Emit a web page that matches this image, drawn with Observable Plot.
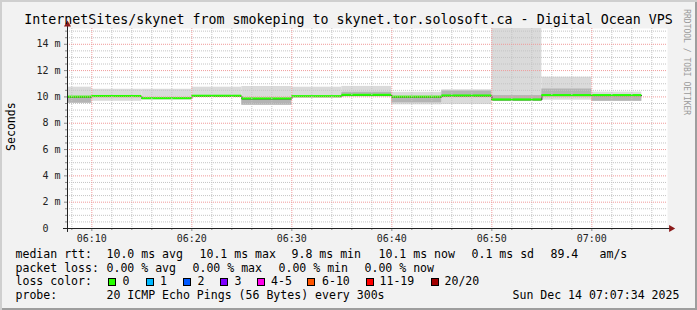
<!DOCTYPE html>
<html><head><meta charset="utf-8">
<script src="https://cdn.jsdelivr.net/npm/d3@7"></script>
<script src="https://cdn.jsdelivr.net/npm/@observablehq/plot@0.6"></script>
<style>
html,body{margin:0;padding:0;background:#f2f2f2;}
#wrap{position:relative;width:697px;height:310px;background:#f2f2f2;overflow:hidden;font-family:"DejaVu Sans Mono",monospace;color:#000;box-shadow:inset 2px 2px 0 #cfcfcf, inset -2px -2px 0 #9e9e9e;}
#chart{position:absolute;left:0;top:0;}
.t{position:absolute;white-space:pre;line-height:1;}
.sq{position:absolute;width:6px;height:6px;border:1px solid #000;}
</style></head><body><div id="wrap"><div id="chart"></div></div>
<script>
// ---- data ----
const timeLabels = ["06:05","06:10","06:15","06:20","06:25","06:30","06:35","06:40","06:45","06:50","06:55","07:00"];
const lastEnd = "07:05";
const medianRtt = [9.98,10.03,9.87,10.05,9.85,10.02,10.12,9.98,10.07,9.77,10.10,10.10];
const smokeMin  = [9.52,9.67,9.82,9.98,9.37,9.95,9.98,9.40,9.42,9.72,9.75,9.67];
const smokeMax  = [10.74,10.58,10.58,10.74,10.79,10.74,10.80,10.35,10.54,15.20,11.50,10.37];
const denseLo   = [9.52,10.03,9.87,10.05,9.37,10.02,10.12,9.55,10.07,9.77,10.10,9.67];
const denseHi   = [9.98,10.03,9.87,10.05,9.85,10.02,10.35,9.98,10.45,10.10,10.60,10.10];
const windowStartLabel = "06:07:34";
const windowEndLabel = "07:07:34";
const yMax = 15.2;
const yTickValues = [2,4,6,8,10,12,14];

const titleText = "InternetSites/skynet from smokeping to skynet.tor.solosoft.ca - Digital Ocean VPS";
const lossLabels = ["0","1","2","3","4-5","6-10","11-19","20/20"];
const lossColors = ["#26ff00","#00b8ff","#0059ff","#7e00ff","#ff00ea","#ff5500","#ff0000","#a10000"];
const lossSquareX = [108,145.5,182.5,219.5,256.5,307,365.5,430.5];
const lossLabelX = [122.5,160,197.5,234.5,271,322,379.5,444.5];
const legendLine1 = [[15.5,"median rtt:"],[106.5,"10.0 ms avg"],[199.5,"10.1 ms max"],[291.5,"9.8 ms min"],[378.5,"10.1 ms now"],[471.5,"0.1 ms sd"],[550.5,"89.4"],[599.5,"am/s"]];
const legendLine2 = [[15.5,"packet loss:"],[106.5,"0.00 % avg"],[192.5,"0.00 % max"],[278.5,"0.00 % min"],[364.5,"0.00 % now"]];
const legendLine4 = [[15.5,"probe:"],[106.5,"20 ICMP Echo Pings (56 Bytes) every 300s"],[512.5,"Sun Dec 14 07:07:34 2025"]];

// ---- build ----
const parseT = s => { const p = s.split(":").map(Number); return new Date(Date.UTC(2025, 11, 14, p[0], p[1], p[2] || 0)); };
const shift = (d, sec) => new Date(+d + sec * 1000);
const windowStart = parseT(windowStartLabel), windowEnd = parseT(windowEndLabel);
const rows = timeLabels.map((t, i) => ({
  start: parseT(t), end: parseT(i < timeLabels.length - 1 ? timeLabels[i + 1] : lastEnd),
  med: medianRtt[i], lo: smokeMin[i], hi: smokeMax[i], dlo: denseLo[i], dhi: denseHi[i]
}));
const medianPts = rows.map(r => ({t: r.start, v: r.med})).concat([{t: rows[rows.length - 1].end, v: rows[rows.length - 1].med}]);
const majorX = d3.utcMinute.every(10).range(windowStart, windowEnd);
const minorX = d3.utcMinute.every(2).range(windowStart, windowEnd).filter(d => d.getUTCMinutes() % 10 !== 0);
const minorY = d3.range(0.5, yMax, 0.5).filter(v => v % 2 !== 0);
const fmt = d3.utcFormat("%H:%M");

const chart = Plot.plot({
  width: 697, height: 310,
  marginLeft: 67, marginRight: 30, marginTop: 28, marginBottom: 82,
  x: {type: "utc", domain: [windowStart, windowEnd], axis: null},
  y: {domain: [0, yMax], axis: null},
  style: {background: "transparent", fontFamily: "'DejaVu Sans Mono', monospace", fontSize: "10px", color: "#222", overflow: "visible"},
  marks: [
    Plot.frame({fill: "#ffffff", stroke: "none"}),
    Plot.rect(rows, {x1: "start", x2: "end", y1: "lo", y2: "hi", fill: "#dadada", clip: true}),
    Plot.rect(rows, {x1: "start", x2: "end", y1: "dlo", y2: "dhi", fill: "#b4b4b4", clip: true}),
    Plot.line(medianPts, {x: "t", y: "v", curve: "step-after", stroke: "#202020", strokeWidth: 1, clip: true}),
    Plot.rect(rows, {x1: "start", x2: "end", y1: d => d.med - 0.08, y2: d => d.med + 0.08, fill: "#26ff00", clip: true}),
    Plot.gridY(minorY, {stroke: "#c4c4c4", strokeOpacity: 1, strokeDasharray: "1,1"}),
    Plot.gridX(minorX, {stroke: "#c4c4c4", strokeOpacity: 1, strokeDasharray: "1,1"}),
    Plot.gridY(yTickValues, {stroke: "#f09a9a", strokeOpacity: 1, strokeDasharray: "1,1"}),
    Plot.gridX(majorX, {stroke: "#f09a9a", strokeOpacity: 1, strokeDasharray: "1,1"}),
    Plot.axisY(minorY, {tickSize: 2, tickFormat: () => "", stroke: "#888", label: null}),
    Plot.axisY(yTickValues, {tickSize: 3, tickPadding: 4, tickFormat: d => `${d} m`, stroke: "#888", fill: "#222", label: null}),
    Plot.axisY([0], {tickSize: 0, tickPadding: 19, tickFormat: () => "0", fill: "#222", label: null}),
    Plot.axisX(minorX, {tickSize: 2, tickFormat: () => "", stroke: "#888", label: null}),
    Plot.axisX(majorX, {tickSize: 3, tickPadding: 3, tickFormat: fmt, stroke: "#888", fill: "#222", label: null}),
    Plot.ruleY([0], {x1: () => shift(windowStart, -24), x2: () => shift(windowEnd, 24), stroke: "#222"}),
    Plot.ruleX([windowStart], {y1: -0.3, y2: 15.55, stroke: "#222"}),
    Plot.dot([0], {x: () => shift(windowEnd, 22), y: () => 0, symbol: "triangle", rotate: 90, r: 2.6, fill: "#8b1a1a", stroke: "none"}),
    Plot.dot([0], {x: () => windowStart, y: () => 15.5, symbol: "triangle", r: 2.6, fill: "#8b1a1a", stroke: "none"})
  ]
});
document.getElementById("chart").appendChild(chart);

// ---- text (title, axis label, legend) ----
const wrap = document.getElementById("wrap");
function addText(x, baseline, text, size, extra) {
  const el = document.createElement("div");
  el.className = "t";
  el.textContent = text;
  el.style.fontSize = size + "px";
  el.style.left = x + "px";
  el.style.top = (baseline - 0.846 * size) + "px";
  if (extra) Object.assign(el.style, extra);
  wrap.appendChild(el);
  return el;
}
addText(0, 24, titleText, 13.3, {width: "697px", textAlign: "center"});
// y axis label
addText(10.5 - 50, 131.5, "Seconds", 11.55, {width: "100px", textAlign: "center", transform: "rotate(-90deg)", transformOrigin: "50% 40%"});
// watermark
addText(686.5 - 60, 66, "RRDTOOL / TOBI OETIKER", 8, {width: "120px", textAlign: "center", color: "#9a9a9a", transform: "rotate(90deg)", transformOrigin: "50% 40%"});
const fs = 11.55;
legendLine1.forEach(([x, s]) => addText(x, 258.3, s, fs));
legendLine2.forEach(([x, s]) => addText(x, 272.3, s, fs));
addText(15.5, 286.2, "loss color:", fs);
lossLabels.forEach((lab, i) => {
  const sq = document.createElement("div");
  sq.className = "sq";
  sq.style.left = lossSquareX[i] + "px";
  sq.style.top = "277.5px";
  sq.style.background = lossColors[i];
  wrap.appendChild(sq);
  addText(lossLabelX[i], 286.2, lab, fs);
});
legendLine4.forEach(([x, s]) => addText(x, 300, s, fs));
</script></body></html>
